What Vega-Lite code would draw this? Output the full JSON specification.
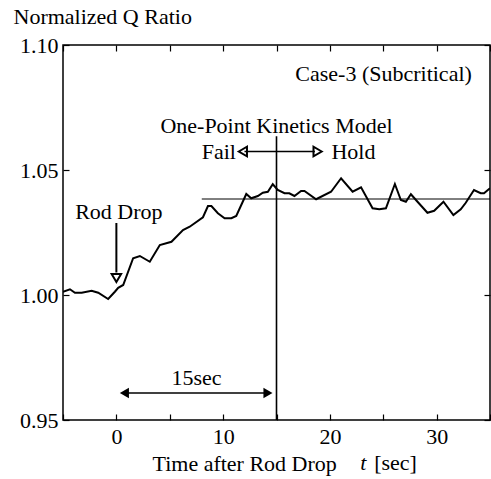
{
  "$schema": "https://vega.github.io/schema/vega-lite/v6.json",
  "width": 427,
  "height": 375,
  "autosize": "none",
  "padding": {"left": 63, "top": 45, "right": 1, "bottom": 59},
  "background": "white",
  "config": {
    "view": {"stroke": "black", "strokeWidth": 1.5},
    "font": "Liberation Serif, Times New Roman, serif",
    "text": {"font": "Liberation Serif, Times New Roman, serif"},
    "axis": {"domain": false, "grid": false, "tickColor": "black", "tickWidth": 1.2, "labelColor": "black", "titleColor": "black", "labelFont": "Liberation Serif, Times New Roman, serif", "titleFont": "Liberation Serif, Times New Roman, serif", "labelFontSize": 22, "titleFontSize": 22, "titleFontWeight": "normal"}
  },
  "datasets": {
    "curve": [
      {"t": -5, "v": 1.0013}, {"t": -4.35, "v": 1.0023}, {"t": -3.88, "v": 1.0009}, {"t": -3.25, "v": 1.0009},
      {"t": -2.32, "v": 1.0017}, {"t": -1.7, "v": 1.0009}, {"t": -0.77, "v": 0.9984}, {"t": -0.14, "v": 1.0013},
      {"t": 0.17, "v": 1.0029}, {"t": 0.64, "v": 1.004}, {"t": 1.57, "v": 1.0147}, {"t": 2.2, "v": 1.0156},
      {"t": 3.13, "v": 1.0133}, {"t": 4.07, "v": 1.02}, {"t": 5.16, "v": 1.0213}, {"t": 6.24, "v": 1.026},
      {"t": 6.87, "v": 1.0273}, {"t": 8.11, "v": 1.0311}, {"t": 8.58, "v": 1.0356}, {"t": 8.9, "v": 1.0356},
      {"t": 9.51, "v": 1.0327}, {"t": 10.14, "v": 1.0307}, {"t": 10.77, "v": 1.0307}, {"t": 11.23, "v": 1.0316},
      {"t": 12.17, "v": 1.0404}, {"t": 12.63, "v": 1.0387}, {"t": 13.25, "v": 1.0396}, {"t": 13.72, "v": 1.0409},
      {"t": 14.19, "v": 1.0413}, {"t": 14.65, "v": 1.0443}, {"t": 15.12, "v": 1.042}, {"t": 15.75, "v": 1.0407},
      {"t": 16.2, "v": 1.0407}, {"t": 16.68, "v": 1.0396}, {"t": 17.3, "v": 1.0416}, {"t": 17.62, "v": 1.0416},
      {"t": 18.71, "v": 1.0383}, {"t": 20.11, "v": 1.0413}, {"t": 21.05, "v": 1.0467}, {"t": 22.13, "v": 1.0413},
      {"t": 22.92, "v": 1.0431}, {"t": 24.0, "v": 1.0347}, {"t": 24.63, "v": 1.0343}, {"t": 25.25, "v": 1.0347},
      {"t": 26.09, "v": 1.0444}, {"t": 26.65, "v": 1.038}, {"t": 27.12, "v": 1.0373}, {"t": 27.59, "v": 1.0403},
      {"t": 28.21, "v": 1.0373}, {"t": 29.14, "v": 1.0329}, {"t": 29.77, "v": 1.0337}, {"t": 30.64, "v": 1.0373},
      {"t": 31.57, "v": 1.032}, {"t": 32.26, "v": 1.0343}, {"t": 32.73, "v": 1.0369}, {"t": 33.5, "v": 1.042},
      {"t": 34.13, "v": 1.0407}, {"t": 34.44, "v": 1.0407}, {"t": 35, "v": 1.0427}
    ],
    "segments": [
      {"t1": 8, "t2": 35, "v1": 1.0384, "v2": 1.0384, "w": 1},
      {"t1": 15, "t2": 15, "v1": 0.95, "v2": 1.0635, "w": 1.6},
      {"t1": 0, "t2": 0, "v1": 1.0288, "v2": 1.009, "w": 2},
      {"t1": 12.0, "t2": 18.6, "v1": 1.0574, "v2": 1.0574, "w": 1.6},
      {"t1": 0.8, "t2": 14.1, "v1": 0.9608, "v2": 0.9608, "w": 1.6}
    ],
    "openheads": [
      {"t": 0, "v": 1.0068, "shape": "triangle-down"},
      {"t": 11.85, "v": 1.0574, "shape": "triangle-left"},
      {"t": 18.85, "v": 1.0574, "shape": "triangle-right"}
    ],
    "filledheads": [
      {"t": 0.75, "v": 0.9608, "shape": "triangle-left"},
      {"t": 14.2, "v": 0.9608, "shape": "triangle-right"}
    ],
    "labels": [
      {"t": 33.3, "v": 1.0885, "text": "Case-3 (Subcritical)", "align": "right"},
      {"t": 15, "v": 1.0675, "text": "One-Point Kinetics Model", "align": "center"},
      {"t": 11.2, "v": 1.0574, "text": "Fail", "align": "right"},
      {"t": 20.15, "v": 1.0574, "text": "Hold", "align": "left"},
      {"t": 0.23, "v": 1.0332, "text": "Rod Drop", "align": "center"},
      {"t": 7.5, "v": 0.9668, "text": "15sec", "align": "center"}
    ],
    "unit": [
      {"t": 22.85, "v": 0.93, "text": "t", "style": "italic"},
      {"t": 24.15, "v": 0.93, "text": "[sec]", "style": "normal"}
    ]
  },
  "layer": [
    {
      "data": {"name": "curve"},
      "mark": {"type": "line", "color": "black", "strokeWidth": 2, "clip": true},
      "encoding": {
        "x": {"field": "t", "type": "quantitative", "scale": {"domain": [-5, 35], "nice": false, "zero": false},
          "axis": {"orient": "bottom", "values": [-5, 0, 5, 10, 15, 20, 25, 30, 35], "labelExpr": "datum.value % 10 == 0 ? datum.label : ''", "tickSize": -6, "labelPadding": 12, "title": "Time after Rod Drop", "titleAlign": "left", "titleAnchor": "start", "titleBaseline": "alphabetic", "titleX": 89, "titleY": 50}},
        "y": {"field": "v", "type": "quantitative", "scale": {"domain": [0.95, 1.1], "nice": false, "zero": false},
          "axis": {"orient": "left", "values": [0.95, 1.0, 1.05, 1.1], "format": ".2f", "tickSize": -6, "labelPadding": 11, "title": "Normalized Q Ratio", "titleAngle": 0, "titleAlign": "left", "titleBaseline": "alphabetic", "titleX": -50, "titleY": -22}}
      }
    },
    {
      "data": {"name": "segments"},
      "mark": {"type": "rule", "color": "black"},
      "encoding": {
        "x": {"field": "t1", "type": "quantitative", "scale": {"domain": [-5, 35], "nice": false, "zero": false},
          "axis": {"orient": "top", "values": [-5, 0, 5, 10, 15, 20, 25, 30, 35], "labels": false, "tickSize": -6, "title": null}},
        "x2": {"field": "t2"},
        "y": {"field": "v1", "type": "quantitative", "scale": {"domain": [0.95, 1.1], "nice": false, "zero": false},
          "axis": {"orient": "right", "values": [0.95, 1.0, 1.05, 1.1], "labels": false, "tickSize": -6, "title": null}},
        "y2": {"field": "v2"},
        "strokeWidth": {"field": "w", "type": "quantitative", "scale": null}
      }
    },
    {
      "data": {"name": "openheads"},
      "mark": {"type": "point", "filled": false, "color": "black", "strokeWidth": 2, "size": 90, "opacity": 1},
      "encoding": {
        "x": {"field": "t", "type": "quantitative", "axis": null},
        "y": {"field": "v", "type": "quantitative", "axis": null},
        "shape": {"field": "shape", "type": "nominal", "scale": null}
      }
    },
    {
      "data": {"name": "filledheads"},
      "mark": {"type": "point", "filled": true, "color": "black", "size": 110, "opacity": 1},
      "encoding": {
        "x": {"field": "t", "type": "quantitative", "axis": null},
        "y": {"field": "v", "type": "quantitative", "axis": null},
        "shape": {"field": "shape", "type": "nominal", "scale": null}
      }
    },
    {
      "data": {"name": "labels"},
      "transform": [{"filter": "datum.align == 'right'"}],
      "mark": {"type": "text", "color": "black", "fontSize": 22, "baseline": "middle", "align": "right"},
      "encoding": {
        "x": {"field": "t", "type": "quantitative", "axis": null},
        "y": {"field": "v", "type": "quantitative", "axis": null},
        "text": {"field": "text"}
      }
    },
    {
      "data": {"name": "labels"},
      "transform": [{"filter": "datum.align == 'center'"}],
      "mark": {"type": "text", "color": "black", "fontSize": 22, "baseline": "middle", "align": "center"},
      "encoding": {
        "x": {"field": "t", "type": "quantitative", "axis": null},
        "y": {"field": "v", "type": "quantitative", "axis": null},
        "text": {"field": "text"}
      }
    },
    {
      "data": {"name": "labels"},
      "transform": [{"filter": "datum.align == 'left'"}],
      "mark": {"type": "text", "color": "black", "fontSize": 22, "baseline": "middle", "align": "left"},
      "encoding": {
        "x": {"field": "t", "type": "quantitative", "axis": null},
        "y": {"field": "v", "type": "quantitative", "axis": null},
        "text": {"field": "text"}
      }
    },
    {
      "data": {"name": "unit"},
      "transform": [{"filter": "datum.style == 'italic'"}],
      "mark": {"type": "text", "color": "black", "fontSize": 22, "fontStyle": "italic", "baseline": "alphabetic", "align": "left", "clip": false},
      "encoding": {
        "x": {"field": "t", "type": "quantitative", "axis": null},
        "y": {"field": "v", "type": "quantitative", "axis": null},
        "text": {"field": "text"}
      }
    },
    {
      "data": {"name": "unit"},
      "transform": [{"filter": "datum.style == 'normal'"}],
      "mark": {"type": "text", "color": "black", "fontSize": 22, "baseline": "alphabetic", "align": "left", "clip": false},
      "encoding": {
        "x": {"field": "t", "type": "quantitative", "axis": null},
        "y": {"field": "v", "type": "quantitative", "axis": null},
        "text": {"field": "text"}
      }
    }
  ],
  "resolve": {"axis": {"x": "independent", "y": "independent"}}
}
